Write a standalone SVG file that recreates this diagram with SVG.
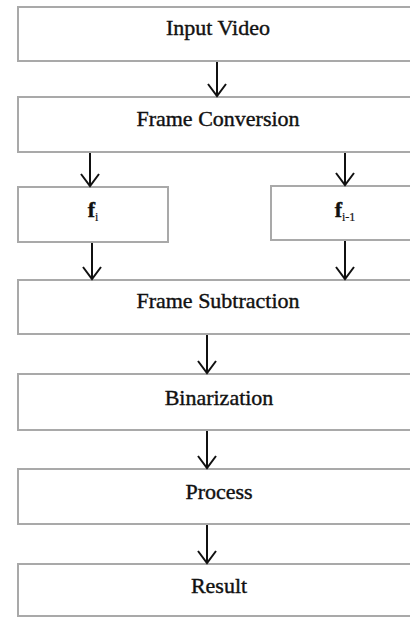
<svg xmlns="http://www.w3.org/2000/svg" width="410" height="617" viewBox="0 0 410 617">
<style>
.box{fill:#fff;stroke:#a9a9a9;stroke-width:2}
.lbl{font-family:'Liberation Serif','DejaVu Serif',serif;font-size:22px;font-weight:normal;fill:#111;text-anchor:middle;stroke:#111;stroke-width:0.4}
.fl{font-weight:bold}
.sub{font-size:12px;font-weight:normal;stroke-width:0.2}
.conn line,.conn path{stroke:#111;stroke-width:2;fill:none}
</style>
<rect width="410" height="617" fill="#fff"/>
<g id="n-input"><rect class="box" x="18" y="7" width="402" height="54"/><text class="lbl" x="218" y="35">Input Video</text></g>
<g id="n-frameconv"><rect class="box" x="18" y="97" width="402" height="55"/><text class="lbl" x="218" y="126">Frame Conversion</text></g>
<g id="n-fi"><rect class="box" x="18" y="187" width="150" height="55"/><text class="lbl fl" x="93" y="217">f<tspan class="sub" dy="4">i</tspan></text></g>
<g id="n-fi1"><rect class="box" x="271" y="186" width="149" height="54"/><text class="lbl fl" x="345" y="217">f<tspan class="sub" dy="4">i-1</tspan></text></g>
<g id="n-framesub"><rect class="box" x="18" y="280" width="402" height="54"/><text class="lbl" x="218" y="308">Frame Subtraction</text></g>
<g id="n-bin"><rect class="box" x="18" y="374" width="402" height="56"/><text class="lbl" x="219" y="405">Binarization</text></g>
<g id="n-process"><rect class="box" x="18" y="469" width="402" height="55"/><text class="lbl" x="219" y="499">Process</text></g>
<g id="n-result"><rect class="box" x="18" y="564" width="402" height="52"/><text class="lbl" x="219" y="593">Result</text></g>
<g class="conn" id="connectors">
<line x1="217" y1="62" x2="217" y2="96"/><path d="M208 84 L217 96 L226 84"/>
<line x1="90" y1="153" x2="90" y2="186"/><path d="M81 174 L90 186 L99 174"/>
<line x1="345" y1="153" x2="345" y2="185"/><path d="M336 173 L345 185 L354 173"/>
<line x1="92" y1="243" x2="92" y2="279"/><path d="M83 267 L92 279 L101 267"/>
<line x1="345" y1="241" x2="345" y2="279"/><path d="M336 267 L345 279 L354 267"/>
<line x1="207" y1="335" x2="207" y2="373"/><path d="M198 361 L207 373 L216 361"/>
<line x1="207" y1="431" x2="207" y2="468"/><path d="M198 456 L207 468 L216 456"/>
<line x1="207" y1="525" x2="207" y2="563"/><path d="M198 551 L207 563 L216 551"/>
</g>
</svg>
